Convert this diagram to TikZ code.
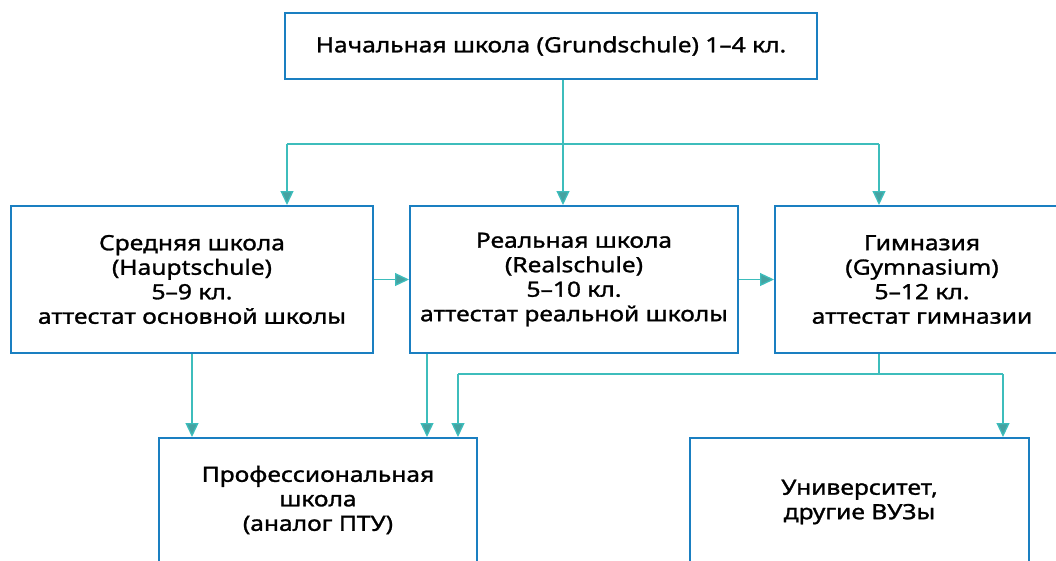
\documentclass[tikz,border=0pt]{standalone}
\usepackage{fontspec}
\setmainfont{Noto Sans}[FakeStretch=1.17, FakeBold=1.3]
\usetikzlibrary{arrows.meta,calc}
\definecolor{boxblue}{HTML}{1A7FC1}
\definecolor{teal}{HTML}{3DBDBC}
\begin{document}
\begin{tikzpicture}[x=1pt, y=-1pt, line join=miter,
	box/.style={draw=boxblue, line width=2pt, fill=white, align=center, inner sep=0pt,
		font=\fontsize{21}{24.5}\selectfont},
	conn/.style={draw=teal, line width=1.3pt},
	arr/.style={conn, -{Triangle[length=14pt, width=13pt, fill=teal!80!black!90]}}]
	\useasboundingbox (0,0) rectangle (1056,560);
	\clip (0,0) rectangle (1056,560);
	\node[box, minimum width=532pt, minimum height=66pt] (top) at (551,46) {Начальная школа (Grundschule) 1–4 кл.};
	\node[box, minimum width=362pt, minimum height=147pt] (hs) at (192,279.5) {Средняя школа\\(Hauptschule)\\5–9 кл.\\аттестат основной школы};
	\node[box, minimum width=328pt, minimum height=147pt] (rs) at (574,279.5) {Реальная школа\\(Realschule)\\5–10 кл.\\аттестат реальной школы};
	\node[box, minimum width=294pt, minimum height=147pt] (gym) at (922,279.5) {Гимназия\\(Gymnasium)\\5–12 кл.\\аттестат гимназии};
	\node[box, minimum width=318pt, minimum height=124pt] (ps) at (318,500) {Профессиональная\\школа\\(аналог ПТУ)};
	\node[box, minimum width=339pt, minimum height=128pt] (uni) at (859.5,502) {Университет,\\другие ВУЗы};
	\coordinate (b0) at (563,144);
	\coordinate (b1) at (287,144);
	\coordinate (b2) at (879,144);
	\coordinate (c1) at (427,374);
	\coordinate (d1) at (458,374);
	\coordinate (d2) at (1003,374);
	\draw[conn] (b1) -- (b2);
	\draw[arr] (top.south -| b0) -- (rs.north -| b0);
	\draw[arr] (b1) -- (hs.north -| b1);
	\draw[arr] (b2) -- (gym.north -| b2);
	\draw[arr] (hs) -- (rs);
	\draw[arr] (rs) -- (gym);
	\draw[arr] (hs.south) -- (hs.south |- ps.north);
	\draw[arr] (rs.south -| c1) -- (ps.north -| c1);
	\draw[conn] (gym.south -| b2) -- (b2 |- d1);
	\draw[conn] (d1) -- (d2);
	\draw[arr] (d1) -- (ps.north -| d1);
	\draw[arr] (d2) -- (uni.north -| d2);
\end{tikzpicture}
\end{document}
